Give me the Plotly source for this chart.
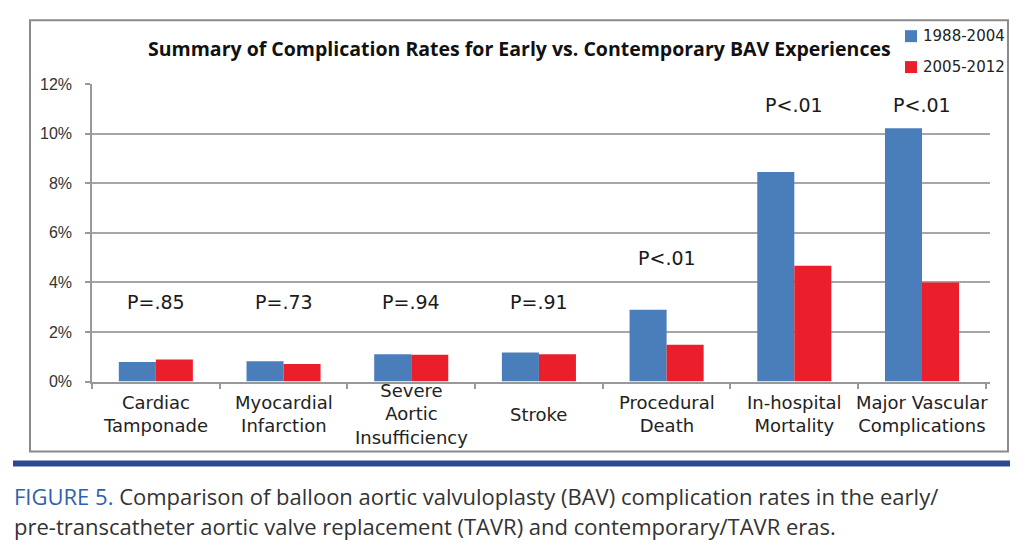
import plotly.graph_objects as go

categories = ["Cardiac<br>Tamponade", "Myocardial<br>Infarction", "Severe<br>Aortic<br>Insufficiency",
              "Stroke", "Procedural<br>Death", "In-hospital<br>Mortality", "Major Vascular<br>Complications"]
early = [0.79, 0.82, 1.10, 1.17, 2.90, 8.45, 10.22]
contemporary = [0.89, 0.71, 1.08, 1.10, 1.48, 4.67, 4.00]
pvalues = ["P=.85", "P=.73", "P=.94", "P=.91", "P<.01", "P<.01", "P<.01"]
series_names = ["1988-2004", "2005-2012"]
y_ticks = [0, 2, 4, 6, 8, 10, 12]
y_tick_labels = ["0%", "2%", "4%", "6%", "8%", "10%", "12%"]

title = "Summary of Complication Rates for Early vs. Contemporary BAV Experiences"
caption1 = ("<span style='color:#2f62ad'>FIGURE 5.</span> Comparison of balloon aortic valvuloplasty "
            "(BAV) complication rates in the early/")
caption2 = "pre-transcatheter aortic valve replacement (TAVR) and contemporary/TAVR eras."

W, H = 1024, 572
def px(x):
    return x / W
def py(y):
    return 1 - ((y - 7.8) / 0.972) / H

BLUE = "#4a7ebb"
RED = "#eb1f2b"
colors = [BLUE, RED]

fig = go.Figure()
fig.add_trace(go.Bar(x=categories, y=early, name=series_names[0], marker_color=BLUE,
                     marker_line_width=0, showlegend=False))
fig.add_trace(go.Bar(x=categories, y=contemporary, name=series_names[1], marker_color=RED,
                     marker_line_width=0, showlegend=False))

# p-value label heights (layout)
label_y = [3.2, 3.2, 3.2, 3.2, 5.0, 11.15, 11.15]
annotations = []
for c, p, yy in zip(categories, pvalues, label_y):
    annotations.append(dict(x=c, y=yy, xref="x", yref="y", text=p, showarrow=False,
                            font=dict(family="DejaVu Sans", size=19, color="#1a1a1a"),
                            yanchor="middle"))
for c in categories:
    annotations.append(dict(x=c, y=py(415), xref="x", yref="paper", text=c, showarrow=False,
                            font=dict(family="DejaVu Sans", size=18, color="#222222"),
                            yanchor="middle"))
annotations.append(dict(x=px(519), y=py(48), xref="paper", yref="paper", text="<b>" + title + "</b>",
                        showarrow=False, font=dict(family="Open Sans", size=19.5, color="#111111"),
                        xanchor="center", yanchor="middle"))
annotations.append(dict(x=px(12), y=py(497), xref="paper", yref="paper", text=caption1,
                        showarrow=False, font=dict(family="Open Sans", size=22, color="#333333"),
                        xanchor="left", yanchor="middle"))
annotations.append(dict(x=px(12), y=py(527), xref="paper", yref="paper", text=caption2,
                        showarrow=False, font=dict(family="Open Sans", size=22, color="#333333"),
                        xanchor="left", yanchor="middle"))

shapes = [
    dict(type="rect", xref="paper", yref="paper", x0=px(30), x1=px(1008), y0=py(452), y1=py(20),
         line=dict(color="#8a8a8a", width=2), fillcolor="rgba(0,0,0,0)", layer="below"),
    dict(type="rect", xref="paper", yref="paper", x0=px(13), x1=px(1010), y0=py(467), y1=py(461),
         line=dict(width=0), fillcolor="#2a4a8d"),
]

# legend (keys + labels)
legend_y = [36, 67]
for name, col, ly in zip(series_names, colors, legend_y):
    shapes.append(dict(type="rect", xref="paper", yref="paper", x0=px(905), x1=px(917),
                       y0=py(ly + 6), y1=py(ly - 6), line=dict(width=0), fillcolor=col))
    annotations.append(dict(x=px(921), y=py(ly), xref="paper", yref="paper", text=name,
                            showarrow=False, xanchor="left", yanchor="middle",
                            font=dict(family="DejaVu Sans", size=15, color="#222222")))

fig.update_layout(
    width=W, height=H,
    margin=dict(l=0, r=0, t=0, b=0),
    paper_bgcolor="white", plot_bgcolor="white",
    barmode="group", bargap=0.42, bargroupgap=0,
    showlegend=False,
    annotations=annotations,
    shapes=shapes,
    xaxis=dict(domain=[px(92), px(990)], showticklabels=False, showgrid=False,
               showline=True, linecolor="#999999", linewidth=1.5,
               ticks="outside", tickson="boundaries", ticklen=6, tickcolor="#999999", tickwidth=1.5,
               fixedrange=True),
    yaxis=dict(domain=[py(382), py(84)], range=[0, 12], tickvals=y_ticks, ticktext=y_tick_labels,
               showgrid=True, gridcolor="#a6a6a6", gridwidth=1.5,
               showline=True, linecolor="#999999", linewidth=1.5,
               ticks="outside", ticklen=5, tickcolor="#999999", tickwidth=1.5,
               ticklabelstandoff=10,
               tickfont=dict(family="Liberation Sans", size=16, color="#333333"),
               zeroline=False, fixedrange=True),
)

fig.write_html("out.html")
